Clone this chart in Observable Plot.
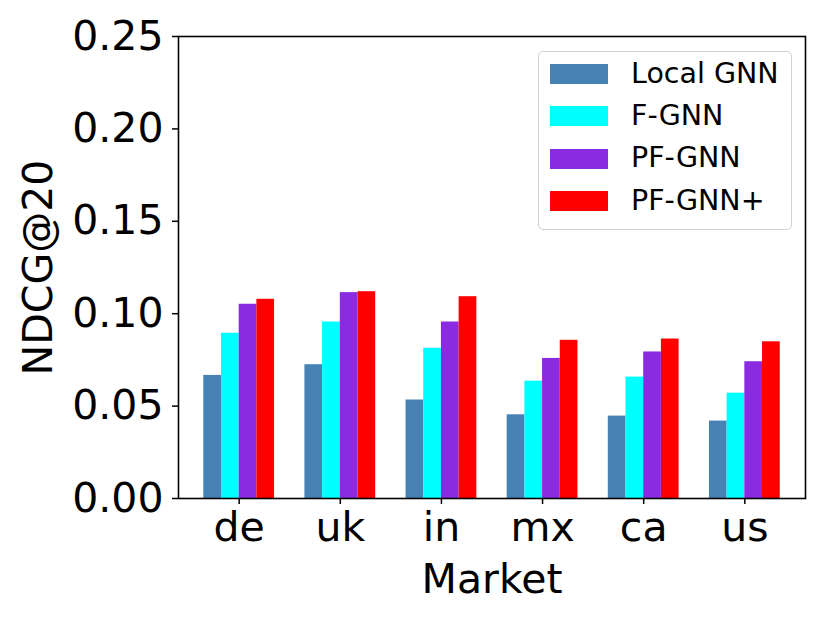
<!DOCTYPE html>
<html>
<head>
<meta charset="utf-8">
<script src="https://cdn.jsdelivr.net/npm/d3@7"></script>
<script src="https://cdn.jsdelivr.net/npm/@observablehq/plot@0.6"></script>
<style>
  html, body { margin: 0; padding: 0; background: #fff; }
  #wrap { position: relative; width: 830px; height: 623px; font-family: "DejaVu Sans", sans-serif; }
  #legend {
    position: absolute; left: 538px; top: 51px; width: 252px; height: 176px;
    border: 1px solid #d0d0d0; border-radius: 5px; background: #fff;
    box-sizing: content-box; padding-top: 1px;
  }
  .row { display: flex; align-items: center; height: 42.3px; }
  .sw { width: 58px; height: 20px; margin-left: 11px; margin-right: 23px; }
  .lab { font-size: 28.5px; color: #000; line-height: 1; }
</style>
</head>
<body>
<div id="wrap"></div>
<script>
const markets = ["de", "uk", "in", "mx", "ca", "us"];
const seriesNames = ["Local GNN", "F-GNN", "PF-GNN", "PF-GNN+"];
const seriesColors = ["steelblue", "cyan", "blueviolet", "red"];
const localGNN  = [0.0666, 0.0724, 0.0533, 0.0453, 0.0446, 0.0419];
const fGNN      = [0.0894, 0.0955, 0.0813, 0.0635, 0.0657, 0.0570];
const pfGNN     = [0.1051, 0.1114, 0.0955, 0.0758, 0.0793, 0.0740];
const pfGNNplus = [0.1078, 0.1119, 0.1092, 0.0856, 0.0863, 0.0848];
const yTicks = [0, 0.05, 0.10, 0.15, 0.20, 0.25];

const seriesValues = [localGNN, fGNN, pfGNN, pfGNNplus];
const barWidth = 0.175;
const table = [];
markets.forEach((m, i) => {
  seriesNames.forEach((s, j) => {
    table.push({i, j, market: m, series: s, value: seriesValues[j][i]});
  });
});

const chart = Plot.plot({
  width: 830,
  height: 623,
  marginLeft: 178,
  marginRight: 25,
  marginTop: 36,
  marginBottom: 125,
  style: {fontFamily: "DejaVu Sans, sans-serif", fontSize: "41px", color: "#000", background: "#fff"},
  x: {domain: [-0.6, 5.6]},
  y: {domain: [0, 0.25]},
  color: {domain: seriesNames, range: seriesColors},
  marks: [
    Plot.rect(table, {
      x1: d => d.i + (d.j - 2) * barWidth,
      x2: d => d.i + (d.j - 1) * barWidth,
      y1: 0,
      y2: "value",
      fill: "series"
    }),
    Plot.frame({stroke: "#000", strokeWidth: 1.6}),
    Plot.axisY({
      ticks: yTicks, tickFormat: ".2f", tickSize: 6, tickPadding: 9, strokeWidth: 1.5,
      label: "NDCG@20", labelAnchor: "center", labelArrow: "none", labelOffset: 156
    }),
    Plot.axisX({
      ticks: d3.range(markets.length), tickFormat: i => markets[i],
      tickSize: 6, tickPadding: 7, strokeWidth: 1.5,
      label: "Market", labelAnchor: "center", labelArrow: "none", labelOffset: 94
    })
  ]
});

const wrap = document.getElementById("wrap");
wrap.appendChild(chart);

const legend = document.createElement("div");
legend.id = "legend";
seriesNames.forEach((s, j) => {
  const row = document.createElement("div");
  row.className = "row";
  const sw = document.createElement("div");
  sw.className = "sw";
  sw.style.background = seriesColors[j];
  const lab = document.createElement("span");
  lab.className = "lab";
  lab.textContent = s;
  row.appendChild(sw);
  row.appendChild(lab);
  legend.appendChild(row);
});
wrap.appendChild(legend);
</script>
</body>
</html>
